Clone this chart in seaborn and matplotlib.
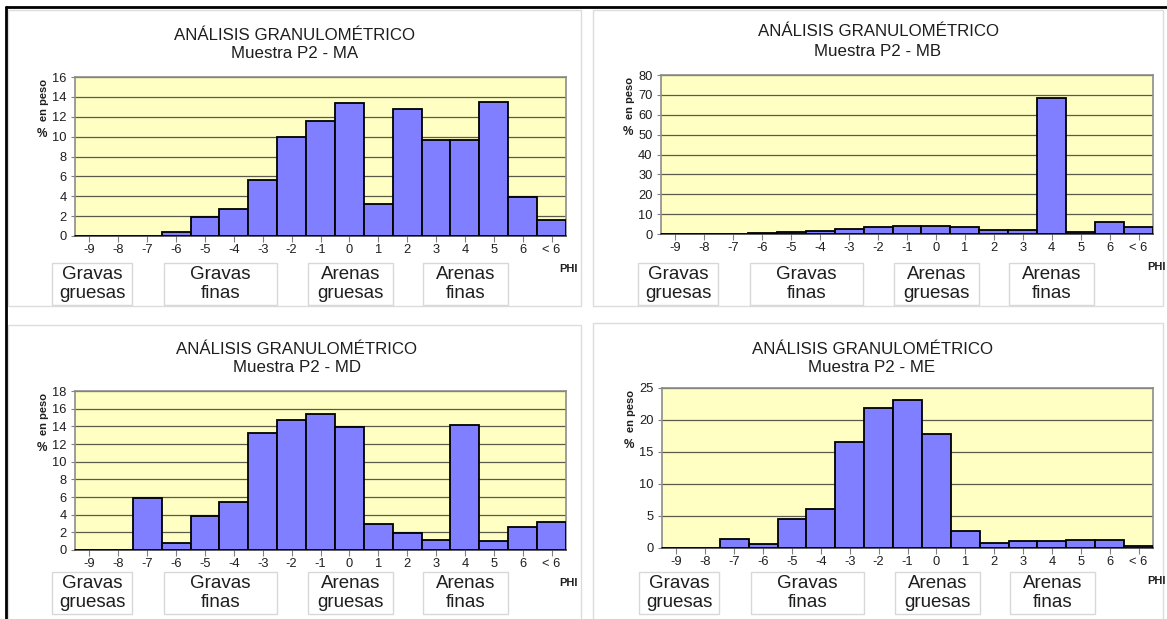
import matplotlib
matplotlib.use("Agg")
import matplotlib.pyplot as plt
import seaborn as sns
import pandas as pd
from matplotlib.patches import Rectangle
from matplotlib.lines import Line2D

W, H = 1167, 619

# Grain-size classes (phi) and weight percentages per sample
phi = ["-9", "-8", "-7", "-6", "-5", "-4", "-3", "-2", "-1", "0",
       "1", "2", "3", "4", "5", "6", "< 6"]
ma = [0, 0, 0, 0.45, 1.95, 2.7, 5.6, 10.0, 11.6, 13.4,
      3.2, 12.75, 9.7, 9.7, 13.5, 3.95, 1.6]
mb = [0, 0, 0, 0.3, 0.8, 1.5, 2.6, 3.5, 4.0, 4.2,
      3.3, 2.0, 1.8, 68.2, 1.2, 5.8, 3.5]
md = [0, 0, 5.9, 0.75, 3.8, 5.4, 13.3, 14.75, 15.35, 13.9,
      2.9, 1.9, 1.1, 14.2, 1.0, 2.55, 3.15]
me = [0, 0, 1.4, 0.55, 4.55, 6.1, 16.5, 21.9, 23.2, 17.8,
      2.7, 0.85, 1.05, 1.05, 1.25, 1.25, 0.3]

samples = ["Muestra P2 - MA", "Muestra P2 - MB", "Muestra P2 - MD", "Muestra P2 - ME"]
series = [ma, mb, md, me]
ymax = [16, 80, 18, 25]
ystep = [2, 10, 2, 5]
classes = ["Gravas\ngruesas", "Gravas\nfinas", "Arenas\ngruesas", "Arenas\nfinas"]
main_title = "ANÁLISIS GRANULOMÉTRICO"

sns.set_theme(style="white")
plt.rcParams["font.family"] = ["Liberation Sans", "DejaVu Sans"]

fig = plt.figure(figsize=(W / 100, H / 100), dpi=100)
fig.patch.set_facecolor("white")


def fx(x):
    return x / W


def fy(y):
    return 1 - y / H


# Layout in pixels: chart frame, plot area, title centre/lines, class-box row
panels = [
    dict(frame=(8, 10, 581, 306), plot=(75, 77, 566, 236), title=(295, 35, 54), boxes=263),
    dict(frame=(593, 10, 1163, 306), plot=(661, 75, 1153, 234), title=(878, 32, 51), boxes=263),
    dict(frame=(8, 325, 581, 625), plot=(75, 391, 566, 550), title=(297, 349, 368), boxes=572),
    dict(frame=(593, 323, 1163, 625), plot=(662, 388, 1153, 548), title=(872, 349, 367), boxes=572),
]
box_offsets = [(-23, 57), (89, 202), (233, 318), (348, 433)]
box_h = 42

bar_color = "#7F7FFF"
plot_bg = "#FFFFC4"
grid_color = "#5a5a4a"
text_color = "#1e1e1e"

for spec, vals, title, top, step in zip(panels, series, samples, ymax, ystep):
    x0, y0, x1, y1 = spec["frame"]
    fig.add_artist(Rectangle((fx(x0), fy(y1)), fx(x1 - x0), (y1 - y0) / H,
                             transform=fig.transFigure, facecolor="white",
                             edgecolor="#dcdcdc", linewidth=1.0, zorder=0))

    px0, py0, px1, py1 = spec["plot"]
    ax = fig.add_axes([fx(px0), fy(py1), fx(px1 - px0), (py1 - py0) / H])
    ax.set_facecolor(plot_bg)

    df = pd.DataFrame({"phi": phi, "pct": vals})
    sns.barplot(data=df, x="phi", y="pct", order=phi, ax=ax, color=bar_color,
                saturation=1, width=1.0, edgecolor="black", linewidth=1.3, zorder=3)

    ax.set_xlim(-0.5, len(phi) - 0.5)
    ax.set_ylim(0, top)
    ax.set_yticks(range(0, top + 1, step))
    ax.yaxis.grid(True, color=grid_color, linewidth=0.9, zorder=1)
    ax.set_axisbelow(True)
    ax.set_xlabel("")
    ax.set_ylabel("")
    for side in ["top", "right", "left"]:
        ax.spines[side].set_color("#8c8c8c")
        ax.spines[side].set_linewidth(1.2)
    ax.spines["bottom"].set_color("#404040")
    ax.spines["bottom"].set_linewidth(1.2)
    ax.tick_params(axis="x", bottom=True, length=4, width=0.8, color="#808080",
                   labelsize=9.3, pad=2, labelcolor=text_color)
    ax.tick_params(axis="y", left=True, length=3, width=0.8, color="#808080",
                   labelsize=9.3, pad=3, labelcolor=text_color)

    # titles
    tx, ty1, ty2 = spec["title"]
    fig.text(fx(tx), fy(ty1), main_title, ha="center", va="center",
             fontsize=12.2, color=text_color)
    fig.text(fx(tx), fy(ty2), title, ha="center", va="center",
             fontsize=12.2, color=text_color)

    # y-axis label
    fig.text(fx(px0 - 31), fy(py0 + 23), "en peso", rotation=90, ha="center",
             va="center", fontsize=8, fontweight="bold", color=text_color)
    fig.text(fx(px0 - 33), fy(py0 + 57), "%", ha="center", va="center",
             fontsize=8.5, fontweight="bold", color=text_color)

    # x-axis label
    fig.text(fx(px1 + 3), fy(py1 + 33), "PHI", ha="center", va="center",
             fontsize=8, fontweight="bold", color=text_color)

    # sediment class boxes
    by = spec["boxes"]
    for (bx0, bx1), label in zip(box_offsets, classes):
        fig.add_artist(Rectangle((fx(px0 + bx0), fy(by + box_h)), fx(bx1 - bx0), box_h / H,
                                 transform=fig.transFigure, facecolor="white",
                                 edgecolor="#d8d8d8", linewidth=1.0, zorder=2))
        fig.text(fx(px0 + (bx0 + bx1) / 2), fy(by + box_h / 2), label,
                 ha="center", va="center", fontsize=13.5, linespacing=1.08,
                 color=text_color, zorder=3)

# outer black border (top and left edges)
fig.add_artist(Line2D([fx(6), 1], [fy(7), fy(7)], transform=fig.transFigure,
                      color="black", linewidth=2))
fig.add_artist(Line2D([fx(6), fx(6)], [fy(7), 0], transform=fig.transFigure,
                      color="black", linewidth=2))

fig.savefig("out.png", dpi=100, facecolor="white")
